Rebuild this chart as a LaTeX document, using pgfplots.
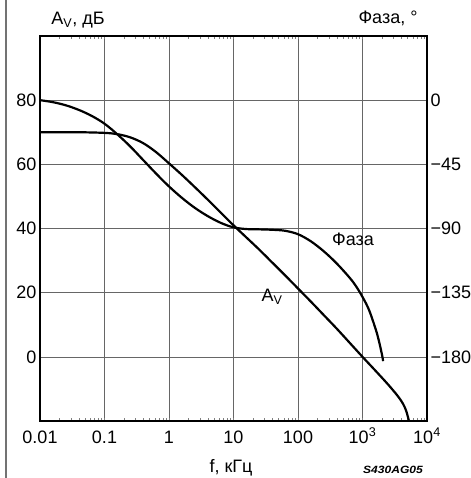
\documentclass[border=0pt]{standalone}
\usepackage{fontspec}
\setmainfont{Liberation Sans}
\usepackage{pgfplots}
\pgfplotsset{compat=1.18}

\begin{document}
\begin{tikzpicture}[x=1pt,y=1pt,font=\fontsize{18}{21}\selectfont]
\begin{axis}[
  at={(0,0)}, anchor=south west,
  scale only axis, width=387pt, height=385pt,
  xmode=log, xmin=0.01, xmax=10000, ymin=-20, ymax=100,
  xtick={0.01,0.1,1,10,100,1000,10000},
  xticklabels={0.01,0.1,1,10,100,10\textsuperscript{3},10\textsuperscript{4}},
  minor xtick={},
  ytick={0,20,40,60,80},
  grid=major,
  grid style={line width=0.6pt, black!60},
  major tick length=0pt,
  axis line style={line width=1.3pt},
  /pgf/number format/assume math mode=true,
  tick label style={font=\fontsize{18}{21}\selectfont},
  xticklabel style={anchor=base, yshift=-22pt},
  clip=false,
]
% A_V, dB
\addplot[line width=2.2pt, smooth, tension=0.55] coordinates {
(0.01,70) (0.03981,70) (0.1,69.8) (0.1585,69.4) (0.2512,68.4) (0.3981,66.6)
(0.6310,63.8) (1,60.3) (1.585,56.7) (2.512,52.9) (3.981,49.0) (6.310,45.0)
(10,41.0) (15.85,37.2) (25.12,33.4) (39.81,29.4) (63.10,25.4) (100,21.3)
(158.5,17.2) (251.2,13.0) (398.1,8.8) (631.0,4.4) (1000,0) (1585,-4.3)
(2512,-8.7) (3548,-12.3) (4266,-14.7) (4786,-17.0) (5248,-20)
};
\draw[line width=2.4pt] (rel axis cs:0,1) -- (rel axis cs:0,0) -- (rel axis cs:1,0);
\node at (axis cs:713,36.6) {Фаза};
\node at (axis cs:39.5,18.75) {A\textsubscript{V}};
\end{axis}
\begin{axis}[
  at={(0,0)}, anchor=south west,
  scale only axis, width=387pt, height=385pt,
  xmode=log, xmin=0.01, xmax=10000, ymin=-225, ymax=45,
  axis x line=none, axis y line*=right,
  ytick={0,-45,-90,-135,-180},
  yticklabels={0,−45,−90,−135,−180},
  major tick length=0pt,
  axis line style={line width=1.3pt},
  tick label style={font=\fontsize{18}{21}\selectfont},
  yticklabel style={anchor=west},
  clip=false,
]
% phase, degrees
\addplot[line width=2.2pt, smooth, tension=0.55] coordinates {
(0.01,0) (0.01585,-1.4) (0.02512,-3.6) (0.03981,-6.8) (0.06310,-11.0) (0.1,-16.5)
(0.1585,-24.0) (0.2512,-32.5) (0.3981,-42.0) (0.6310,-51.5) (1,-60.5)
(1.585,-68.5) (2.512,-75.5) (3.981,-81.3) (6.310,-86.0) (10,-89.2)
(15.85,-90.4) (25.12,-90.6) (39.81,-90.9) (63.10,-91.6) (100,-94.0)
(158.5,-99) (251.2,-106) (398.1,-114.5) (631.0,-124.5) (794.3,-130.5)
(1000,-138) (1259,-147) (1585,-160) (1778,-168) (1995,-178) (2089,-183)
};
\end{axis}
\draw[line width=1.2pt, black!55] (-34,-57) -- (-34,421);
\node at (38,401) {A\textsubscript{V}, дБ};
\node at (348,403) {Фаза, °};
\node at (191,-47) {f, кГц};
\node[font=\fontsize{10.5}{12}\selectfont\bfseries\itshape, xscale=1.15] at (353,-49) {S430AG05};
\pgfresetboundingbox
\useasboundingbox (-40,-57) rectangle (430,421);
\end{tikzpicture}
\end{document}
